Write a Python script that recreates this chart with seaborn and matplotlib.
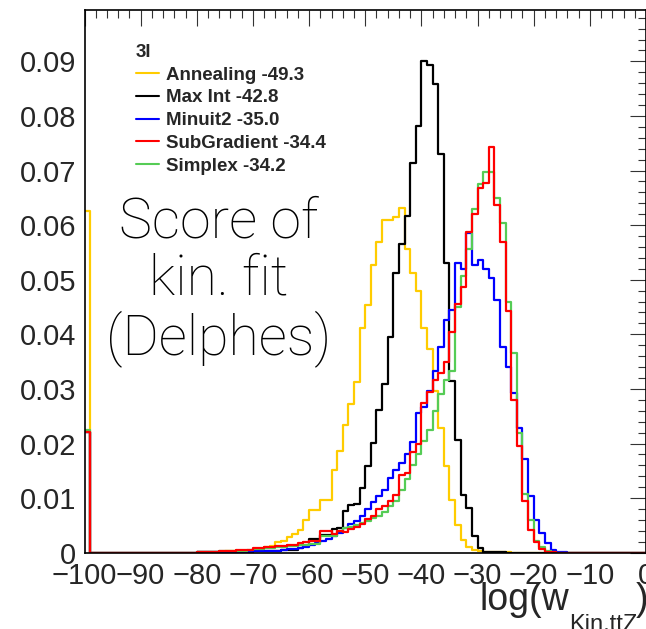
import numpy as np
import pandas as pd
import matplotlib
matplotlib.use("Agg")
import matplotlib.pyplot as plt
from matplotlib.lines import Line2D
from matplotlib.font_manager import FontProperties
from matplotlib.ticker import MultipleLocator, FixedLocator, FixedFormatter
import seaborn as sns

# ---------------- data ----------------
# 100 bins of width 1 between -100 and 0
bin_lo, bin_hi, n_bins = -100, 0, 100
# content of the first bin [-100,-99]
first_bin = {"Annealing": 0.0625, "Max Int": 0.0222, "Minuit2": 0.0222,
             "SubGradient": 0.0222, "Simplex": 0.0224}
# contents of bins with left edges -80 ... -11
main_start = -80
annealing = [0.0001, 0.0001, 0.0001, 0.0002, 0.0002,
             0.0003, 0.0003, 0.0003, 0.0004, 0.0004,
             0.0007, 0.0007, 0.0011, 0.0013, 0.0019,
             0.0022, 0.0028, 0.0035, 0.0041, 0.0059,
             0.0078, 0.0078, 0.0096, 0.0096, 0.0152,
             0.0186, 0.0234, 0.0272, 0.0312, 0.0411,
             0.0454, 0.0527, 0.0570, 0.0610, 0.0609,
             0.0615, 0.0632, 0.0556, 0.0513, 0.0479,
             0.0411, 0.0374, 0.0297, 0.0229, 0.0158,
             0.0097, 0.0051, 0.0024, 0.0011, 0.0005,
             0.0004, 0.0002, 0.0002, 0.0001, 0.0001,
             0.0001, 0, 0, 0, 0,
             0, 0, 0, 0, 0,
             0, 0, 0, 0, 0]
max_int = [0.0001, 0.0001, 0.0001, 0.0001, 0.0001,
           0.0001, 0.0001, 0.0002, 0.0002, 0.0002,
           0.0003, 0.0003, 0.0003, 0.0003, 0.0003,
           0.0005, 0.0005, 0.0005, 0.0008, 0.0013,
           0.0025, 0.0025, 0.0032, 0.0032, 0.0044,
           0.0046, 0.0077, 0.0087, 0.0089, 0.0119,
           0.0158, 0.0201, 0.0262, 0.0309, 0.0395,
           0.0513, 0.0566, 0.0616, 0.0714, 0.0782,
           0.0900, 0.0893, 0.0858, 0.0730, 0.0530,
           0.0315, 0.0206, 0.0106, 0.0082, 0.0030,
           0.0008, 0.0002, 0.0001, 0.0001, 0.0001,
           0, 0, 0, 0, 0,
           0, 0, 0, 0, 0,
           0, 0, 0, 0, 0]
minuit2 = [0.0001, 0.0001, 0.0001, 0.0001, 0.0001,
           0.0002, 0.0002, 0.0002, 0.0002, 0.0002,
           0.0004, 0.0004, 0.0004, 0.0004, 0.0004,
           0.0005, 0.0006, 0.0007, 0.0009, 0.0011,
           0.0014, 0.0017, 0.0021, 0.0026, 0.0030,
           0.0037, 0.0045, 0.0052, 0.0058, 0.0068,
           0.0080, 0.0092, 0.0104, 0.0115, 0.0137,
           0.0151, 0.0164, 0.0180, 0.0202, 0.0255,
           0.0266, 0.0297, 0.0332, 0.0377, 0.0427,
           0.0444, 0.0530, 0.0519, 0.0585, 0.0527,
           0.0536, 0.0519, 0.0504, 0.0463, 0.0376,
           0.0341, 0.0293, 0.0228, 0.0171, 0.0103,
           0.0060, 0.0037, 0.0018, 0.0005, 0.0002,
           0.0001, 0, 0, 0, 0]
subgradient = [0.0002, 0.0002, 0.0002, 0.0002, 0.0004,
               0.0004, 0.0004, 0.0005, 0.0005, 0.0005,
               0.0008, 0.0008, 0.0010, 0.0010, 0.0012,
               0.0012, 0.0015, 0.0015, 0.0018, 0.0020,
               0.0022, 0.0022, 0.0040, 0.0040, 0.0035,
               0.0040, 0.0038, 0.0044, 0.0047, 0.0053,
               0.0062, 0.0068, 0.0080, 0.0085, 0.0095,
               0.0105, 0.0143, 0.0146, 0.0185, 0.0200,
               0.0275, 0.0295, 0.0316, 0.0330, 0.0350,
               0.0405, 0.0455, 0.0487, 0.0588, 0.0620,
               0.0668, 0.0677, 0.0743, 0.0636, 0.0570,
               0.0442, 0.0280, 0.0196, 0.0094, 0.0042,
               0.0019, 0.0006, 0.0002, 0.0001, 0,
               0, 0, 0, 0, 0]
simplex = [0.0001, 0.0001, 0.0002, 0.0002, 0.0003,
           0.0003, 0.0003, 0.0004, 0.0004, 0.0005,
           0.0006, 0.0007, 0.0008, 0.0009, 0.0010,
           0.0011, 0.0012, 0.0013, 0.0014, 0.0015,
           0.0016, 0.0016, 0.0030, 0.0030, 0.0030,
           0.0040, 0.0045, 0.0047, 0.0050, 0.0055,
           0.0058, 0.0063, 0.0068, 0.0075, 0.0085,
           0.0095, 0.0115, 0.0135, 0.0160, 0.0180,
           0.0205, 0.0225, 0.0260, 0.0290, 0.0316,
           0.0332, 0.0450, 0.0506, 0.0557, 0.0630,
           0.0676, 0.0698, 0.0698, 0.0649, 0.0604,
           0.0460, 0.0366, 0.0219, 0.0107, 0.0060,
           0.0021, 0.0010, 0.0004, 0.0001, 0,
           0, 0, 0, 0, 0]

series_names = ["Annealing", "Max Int", "Minuit2", "SubGradient", "Simplex"]
series_means = ["-49.3", "-42.8", "-35.0", "-34.4", "-34.2"]
series_values = [annealing, max_int, minuit2, subgradient, simplex]
legend_title = "3l"
x_ticks = [-100, -90, -80, -70, -60, -50, -40, -30, -20, -10, 0]
y_ticks = [0, 0.01, 0.02, 0.03, 0.04, 0.05, 0.06, 0.07, 0.08, 0.09]
y_tick_labels = ["0", "0.01", "0.02", "0.03", "0.04", "0.05", "0.06", "0.07", "0.08", "0.09"]
y_top = 0.0995
annotation = "Score of\nkin. fit\n(Delphes)"

colors = {"Annealing": "#FFCC00", "Max Int": "#000000", "Minuit2": "#0000FF",
          "SubGradient": "#FF0000", "Simplex": "#55CC55"}
draw_order = ["Annealing", "Max Int", "Minuit2", "Simplex", "SubGradient"]

# ---------------- build table ----------------
edges = np.linspace(bin_lo, bin_hi, n_bins + 1)
centers = 0.5 * (edges[:-1] + edges[1:])
rows = []
for name, vals in zip(series_names, series_values):
    full = np.zeros(n_bins)
    full[0] = first_bin[name]
    i0 = main_start - bin_lo
    full[i0:i0 + len(vals)] = vals
    for c, w in zip(centers, full):
        rows.append({"x": c, "w": w, "series": name})
df = pd.DataFrame(rows)

# ---------------- figure ----------------
sns.set_style("white")
plt.rcParams["font.family"] = ["Liberation Sans", "DejaVu Sans"]
plt.rcParams["axes.unicode_minus"] = True

W, H = 646, 629
fig = plt.figure(figsize=(W / 100, H / 100), dpi=100)
ax_l, ax_r, ax_t, ax_b = 84.5, 646, 9.5, 552.7
ax = fig.add_axes([ax_l / W, 1 - ax_b / H, (ax_r - ax_l) / W, (ax_b - ax_t) / H])

for name in draw_order:
    sub = df[df["series"] == name]
    sns.histplot(data=sub, x="x", weights="w", binwidth=1, binrange=(bin_lo, bin_hi),
                 element="step", fill=False, color=colors[name], linewidth=1.6, ax=ax)

ax.set_xlim(bin_lo, bin_hi)
ax.set_ylim(0, y_top)
ax.set_xlabel("")
ax.set_ylabel("")

ax.xaxis.set_major_locator(FixedLocator(x_ticks))
ax.xaxis.set_minor_locator(MultipleLocator(2))
ax.yaxis.set_major_locator(FixedLocator(y_ticks))
ax.yaxis.set_major_formatter(FixedFormatter(y_tick_labels))
ax.yaxis.set_minor_locator(MultipleLocator(0.002))

ax.tick_params(which="both", direction="in", top=True, right=True,
               color="#333333", width=0.8)
ax.tick_params(which="major", length=11.5, labelsize=21, pad=7)
ax.tick_params(which="minor", length=5.8)
ax.tick_params(axis="y", which="major", pad=6)
for s in ax.spines.values():
    s.set_linewidth(1.2)
    s.set_color("black")

# legend
handles = [Line2D([], [], color=colors[n], linewidth=1.5) for n in series_names]
labels = [f"{n} {m}" for n, m in zip(series_names, series_means)]
bold = FontProperties(family="Liberation Sans", weight="bold", size=13.5)
leg = ax.legend(handles, labels, title=legend_title, loc="upper left",
                bbox_to_anchor=(136 / W, 1 - 44 / H), bbox_transform=fig.transFigure,
                frameon=False, prop=bold, title_fontproperties=bold,
                handlelength=1.25, handletextpad=0.35, labelspacing=0.3,
                borderpad=0, borderaxespad=0, alignment="left")

# big annotation
ax.text(219 / W, 1 - 281 / H, annotation, transform=fig.transFigure,
        ha="center", va="center", fontsize=40, linespacing=1.1,
        family=["Roboto", "DejaVu Sans"], fontweight="light", color="black")

# x-axis title (ROOT style, at the end of the axis)
fig.text(479 / W, 1 - 610 / H, "log(w", fontsize=27, ha="left", va="baseline",
         family="Liberation Sans")
fig.text(569 / W, 1 - 631 / H, "Kin,ttZ", fontsize=17, ha="left", va="baseline",
         family="Liberation Sans")
fig.text(636 / W, 1 - 610 / H, ")", fontsize=27, ha="left", va="baseline",
         family="Liberation Sans")

fig.savefig("out.png", dpi=100, facecolor="white")
